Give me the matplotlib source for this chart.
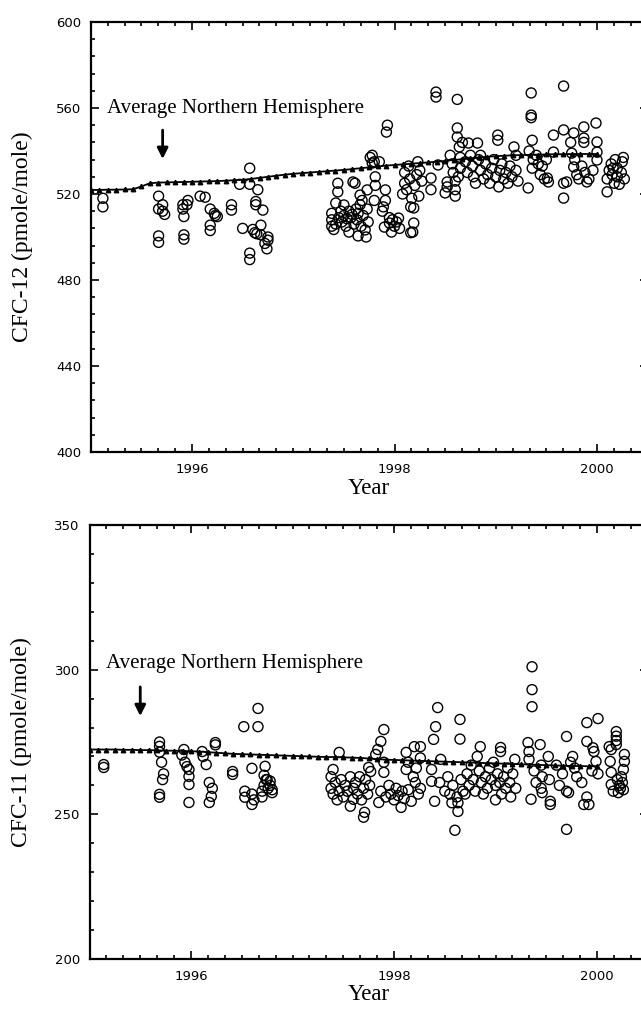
import numpy as np
from matplotlib import pyplot as plt
from matplotlib.ticker import MultipleLocator

plt.rcParams['font.family'] = ['DejaVu Sans']

# monthly Northern Hemisphere averages, Jan 1995 .. Jan 2000
months = 1995 + np.arange(61) / 12.0
cfc12_avg = [521.9, 521.9, 522.0, 522.0, 522.1, 522.2, 523.5, 525.0, 525.3, 525.4, 525.5, 525.6,
             525.7, 525.8, 525.9, 526.0, 526.2, 526.4, 526.6, 527.0, 527.5, 528.0, 528.5, 529.0,
             529.4, 529.7, 530.0, 530.3, 530.6, 530.9, 531.2, 531.6, 532.0, 532.4, 532.8, 533.2,
             533.5, 533.8, 534.1, 534.4, 534.7, 535.0, 535.4, 535.8, 536.2, 536.6, 537.0, 537.3,
             537.6, 537.8, 538.0, 538.1, 538.2, 538.3, 538.4, 538.5, 538.5, 538.6, 538.6, 538.6,
             538.6]
cfc11_avg = [272.4, 272.4, 272.4, 272.4, 272.3, 272.3, 272.2, 272.2, 272.1, 272.0, 272.0, 271.9,
             271.8, 271.7, 271.5, 271.3, 271.1, 270.9, 270.8, 270.7, 270.6, 270.5, 270.4, 270.3,
             270.2, 270.1, 270.0, 269.9, 269.8, 269.8, 269.7, 269.6, 269.5, 269.3, 269.1, 268.9,
             268.8, 268.7, 268.6, 268.5, 268.4, 268.3, 268.2, 268.1, 268.0, 267.9, 267.8, 267.7,
             267.6, 267.5, 267.4, 267.3, 267.2, 267.1, 267.0, 266.9, 266.8, 266.7, 266.7, 266.6,
             266.6]

# individual samples (decimal year, pmole/mole)
cfc12_year = [1995.12, 1995.12,
              1995.67, 1995.67, 1995.71, 1995.71, 1995.73, 1995.67, 1995.67,
              1995.91, 1995.91, 1995.92, 1995.92, 1995.92, 1995.96, 1995.95,
              1996.08, 1996.13, 1996.18, 1996.22, 1996.25, 1996.18, 1996.18, 1996.23,
              1996.39, 1996.39,
              1996.50, 1996.47, 1996.57, 1996.57, 1996.65, 1996.63, 1996.63, 1996.70, 1996.60,
              1996.62, 1996.64, 1996.68, 1996.68, 1996.75, 1996.75, 1996.72, 1996.74, 1996.57, 1996.57,
              1997.38, 1997.38, 1997.38, 1997.40, 1997.42, 1997.42, 1997.44, 1997.44, 1997.45,
              1997.47, 1997.48, 1997.50, 1997.50, 1997.52, 1997.53, 1997.55, 1997.55, 1997.57,
              1997.58, 1997.59, 1997.60, 1997.61, 1997.62, 1997.63, 1997.64, 1997.64, 1997.66,
              1997.66, 1997.67, 1997.68, 1997.69, 1997.71, 1997.72, 1997.73, 1997.73, 1997.74,
              1997.76, 1997.78, 1997.78, 1997.80, 1997.81, 1997.81, 1997.80, 1997.85, 1997.88,
              1997.89, 1997.91, 1997.91, 1997.93, 1997.92, 1997.90, 1997.95, 1997.97, 1997.98,
              1998.00, 1998.02, 1998.04, 1998.05, 1997.95,
              1998.08, 1998.10, 1998.10, 1998.12, 1998.14, 1998.15, 1998.16, 1998.17, 1998.19,
              1998.19, 1998.18, 1998.16, 1998.20, 1998.22, 1998.24, 1998.25, 1998.27, 1998.23,
              1998.36, 1998.36, 1998.41, 1998.41, 1998.43, 1998.50, 1998.52, 1998.52, 1998.55,
              1998.57, 1998.58, 1998.60, 1998.60, 1998.62, 1998.62, 1998.62, 1998.64, 1998.65,
              1998.63, 1998.65, 1998.60,
              1998.67, 1998.70, 1998.72, 1998.73, 1998.75, 1998.77, 1998.78, 1998.80, 1998.82,
              1998.83, 1998.85, 1998.85, 1998.88, 1998.90, 1998.92, 1998.94, 1998.96, 1998.98,
              1999.00, 1999.02, 1999.02, 1999.03, 1999.04, 1999.06, 1999.08, 1999.10, 1999.12,
              1999.14, 1999.16, 1999.18, 1999.20, 1999.20, 1999.22,
              1999.32, 1999.35, 1999.35, 1999.35, 1999.36, 1999.33, 1999.37, 1999.36, 1999.40,
              1999.42, 1999.44, 1999.46, 1999.48, 1999.51, 1999.52, 1999.50,
              1999.57, 1999.57, 1999.67, 1999.67, 1999.67, 1999.67, 1999.70, 1999.74, 1999.75,
              1999.77, 1999.77, 1999.78, 1999.80, 1999.82, 1999.85, 1999.87, 1999.87, 1999.87,
              1999.88, 1999.90, 1999.92, 1999.99, 2000.00, 2000.00, 2000.00, 1999.96,
              2000.10, 2000.10, 2000.12, 2000.14, 2000.15, 2000.17, 2000.18, 2000.20, 2000.20,
              2000.22, 2000.24, 2000.25, 2000.26, 2000.27, 2000.16]
cfc12_ppt = [518, 514,
             519, 513, 515, 512, 510.5, 500.5, 497.5,
             515, 513, 509.5, 501, 499, 517, 515,
             519, 518.5, 513, 511, 509.5, 505.5, 503, 510,
             515, 512.5,
             504, 524.5, 532, 524.5, 522, 516.5, 515, 512.5, 503.5,
             502, 501.5, 505.5, 501, 500, 498.5, 497, 494.5, 492.5, 489.5,
             505, 508, 511, 503.5, 515.8, 506, 525, 521, 509,
             512, 507, 514.9, 510, 505, 508.5, 502.3, 512, 509,
             510.5, 525.6, 506, 525, 513, 508, 511, 500.5, 519.5,
             515, 505, 517, 510, 503.3, 500, 521.9, 513, 507,
             537, 538, 534.4, 535, 528, 524, 517, 535, 512,
             514, 521.9, 517, 552, 548.8, 504.6, 506.5, 502.3, 508,
             505, 507, 508.8, 504, 509,
             520, 525, 530, 522, 533, 527, 514, 518, 513.5,
             506.5, 502.3, 502, 524, 529, 519, 531, 526, 535,
             527.4, 522, 567.4, 565.1, 533.5, 520.5, 525.6, 523.3, 538,
             534, 530, 526, 522, 564, 550.7, 546.5, 541.9, 537,
             528, 532, 519,
             544, 535, 530, 543.7, 538, 533, 528, 525, 543.7,
             536, 538, 531, 527, 534, 529, 525, 532, 536,
             528, 547.4, 545, 523.3, 531, 534, 527, 530, 525,
             533, 528, 541.9, 538, 531, 526,
             522.8, 567, 556.7, 555.5, 545, 540, 536, 532, 538,
             534, 529, 533, 527, 527.4, 525.6, 536,
             547.4, 539.5, 570.2, 549.8, 518.1, 525, 525.6, 544, 539,
             548.4, 532.6, 536, 529, 527, 533, 551.2, 546, 544,
             530, 525.6, 527, 553, 544.2, 539.5, 535.8, 531,
             521, 527, 531, 534, 529, 525, 536, 532, 528,
             524.5, 530, 535, 537, 527, 532]

cfc11_year = [1995.14, 1995.14,
              1995.69, 1995.69, 1995.69, 1995.71, 1995.73, 1995.69, 1995.69, 1995.72,
              1995.93, 1995.91, 1995.94, 1995.96, 1995.98, 1995.98, 1995.98, 1995.98,
              1996.11, 1996.12, 1996.15, 1996.18, 1996.20, 1996.18, 1996.24, 1996.24, 1996.21,
              1996.41, 1996.41,
              1996.52, 1996.66, 1996.66, 1996.60, 1996.73, 1996.53, 1996.53, 1996.60, 1996.60,
              1996.62, 1996.70, 1996.72, 1996.74, 1996.76, 1996.78, 1996.80, 1996.70, 1996.72,
              1996.75, 1996.78, 1996.80,
              1997.38, 1997.38, 1997.40, 1997.40, 1997.42, 1997.44, 1997.46, 1997.46, 1997.48,
              1997.50, 1997.52, 1997.54, 1997.57, 1997.57, 1997.60, 1997.60, 1997.62, 1997.64,
              1997.66, 1997.68, 1997.70, 1997.71, 1997.70, 1997.72, 1997.74, 1997.75, 1997.77,
              1997.76,
              1997.82, 1997.84, 1997.87, 1997.90, 1997.85, 1997.87, 1997.90, 1997.90, 1997.92,
              1997.95, 1997.97, 1998.00, 1998.02, 1998.04, 1998.07, 1998.08, 1998.10, 1998.12,
              1998.12, 1998.14, 1998.14, 1998.17, 1998.19, 1998.20, 1998.21, 1998.22, 1998.24,
              1998.26, 1998.26, 1998.26,
              1998.37, 1998.37, 1998.39, 1998.41, 1998.43, 1998.40, 1998.45, 1998.46, 1998.50,
              1998.53, 1998.55, 1998.57, 1998.58, 1998.60, 1998.62, 1998.63, 1998.63, 1998.65,
              1998.65, 1998.66, 1998.68, 1998.70,
              1998.72, 1998.74, 1998.76, 1998.78, 1998.80, 1998.82, 1998.84, 1998.85, 1998.86,
              1998.88, 1998.90, 1998.92, 1998.94, 1998.96, 1998.98, 1999.00, 1999.00, 1999.02,
              1999.04, 1999.05, 1999.05, 1999.06, 1999.08, 1999.10, 1999.12, 1999.14, 1999.15,
              1999.17, 1999.19, 1999.20,
              1999.32, 1999.33, 1999.33, 1999.35, 1999.36, 1999.36, 1999.36, 1999.38, 1999.40,
              1999.44, 1999.45, 1999.46, 1999.45, 1999.46, 1999.52, 1999.53, 1999.54, 1999.54,
              1999.60, 1999.63, 1999.66, 1999.70, 1999.70, 1999.70, 1999.72, 1999.74, 1999.76,
              1999.78, 1999.80, 1999.85, 1999.87, 1999.90, 1999.90, 1999.90, 1999.92, 1999.96,
              1999.97, 1999.99, 2000.01, 2000.01, 1999.95,
              2000.12, 2000.14, 2000.13, 2000.14, 2000.14, 2000.16, 2000.19, 2000.19, 2000.19,
              2000.19, 2000.20, 2000.22, 2000.23, 2000.25, 2000.26, 2000.27, 2000.27, 2000.26,
              2000.24, 2000.21]
cfc11_ppt = [267.2, 266.2,
             275, 273.5, 271.5, 268, 264, 256.9, 255.9, 262,
             272.4, 270.5, 268, 266.5, 265.5, 263.1, 260.3, 254.1,
             271.7, 270, 267.2, 261, 256.2, 254.1, 274.8, 274, 259,
             264.8, 263.8,
             280.3, 280.3, 286.6, 265.9, 266.6, 258, 255.9, 253.4, 257,
             255, 258, 260, 262, 259, 261.5, 257.5, 256, 263.5,
             262, 260, 258.5,
             263, 259, 265.5, 257, 261, 255, 271.4, 258, 262,
             256, 260, 258, 252.8, 263, 255.2, 259, 261, 257,
             263, 255, 249, 250.7, 259, 262, 257, 266.2, 264.8,
             260,
             270.7, 272.4, 275.2, 279.3, 254.1, 258, 268, 264.5, 256,
             260, 257, 255, 259, 256.5, 252.4, 258, 255.5, 271.4,
             265.5, 268, 258.5, 254.5, 263, 273.4, 261, 266, 257,
             273.4, 269.5, 259,
             265.5, 261.4, 275.9, 280.3, 286.9, 254.5, 261, 269, 258,
             263, 257, 254, 260, 244.5, 256, 251, 254, 282.8,
             276, 262, 258, 257,
             264, 260, 267, 262, 258, 270, 265, 273.4, 261,
             257, 263, 259, 266, 262, 268, 255, 260, 264,
             261, 273.1, 271.7, 257, 263, 259, 266, 261, 256,
             264, 269, 259,
             274.8, 271.7, 269, 255.2, 301, 293.1, 287.2, 265, 261,
             274.1, 267, 263, 259, 257.5, 270, 262, 254.5, 253.4,
             267, 260, 264, 276.9, 244.8, 258, 257.5, 268, 270,
             266, 263, 261, 253.4, 281.7, 275.2, 256, 253.4, 273,
             271.7, 268.3, 283.1, 264, 265,
             273.4, 272.4, 268.3, 264.5, 260.3, 258, 278.6, 277, 275.5,
             274.1, 262, 260, 259, 261, 258.5, 270.7, 268.3, 265.5,
             263, 257.5]

W, H = 641, 1011
fig = plt.figure(figsize=(W / 100, H / 100), dpi=100)

# axes placed from the pixel layout of the original figure
ax1 = fig.add_axes([90.75 / W, 1 - 452 / H, 5.5 * 101.25 / W, 430 / H])
ax2 = fig.add_axes([89.5 / W, 1 - 959 / H, 5.5 * 101.5 / W, 434 / H])


def style_axes(ax, ylo, yhi, ymaj, ymin):
    ax.set_xlim(1995, 2000.5)
    ax.set_ylim(ylo, yhi)
    ax.xaxis.set_major_locator(MultipleLocator(2))
    ax.xaxis.set_minor_locator(MultipleLocator(1 / 6))
    ax.yaxis.set_major_locator(MultipleLocator(ymaj))
    ax.yaxis.set_minor_locator(MultipleLocator(ymin))
    ax.tick_params(which='both', direction='in', top=True, right=True, width=1.2)
    ax.tick_params(which='major', length=6, labelsize=9.5, pad=7)
    ax.tick_params(which='minor', length=3)
    ax.tick_params(axis='x', which='major', pad=8)
    for s in ax.spines.values():
        s.set_linewidth(1.6)
    ax.set_xlabel('Year', family='Liberation Serif', fontsize=16.5, labelpad=1)


for ax, yr, val, avg, ylab in [(ax1, cfc12_year, cfc12_ppt, cfc12_avg, 'CFC-12 (pmole/mole)'),
                               (ax2, cfc11_year, cfc11_ppt, cfc11_avg, 'CFC-11 (pmole/mole)')]:
    ax.scatter(yr, val, s=52, facecolors='none', edgecolors='black', linewidths=1.0, zorder=2)
    ax.plot(months, avg, '-', color='black', lw=1.3, marker='^', ms=3.2, zorder=3)
    ax.set_ylabel(ylab, family='Liberation Serif', fontsize=17, labelpad=16)

style_axes(ax1, 400, 600, 40, 8)
style_axes(ax2, 200, 350, 50, 10)

# annotations
ax1.text(1995.16, 560, 'Average Northern Hemisphere', va='center', ha='left',
         family='Liberation Serif', fontsize=15)
ax1.annotate('', xy=(1995.71, 535), xytext=(1995.71, 551),
             arrowprops=dict(arrowstyle='-|>', color='black', lw=2, mutation_scale=16))
ax2.text(1995.16, 302, 'Average Northern Hemisphere', va='center', ha='left',
         family='Liberation Serif', fontsize=15)
ax2.annotate('', xy=(1995.5, 283), xytext=(1995.5, 295),
             arrowprops=dict(arrowstyle='-|>', color='black', lw=2, mutation_scale=16))

plt.savefig('out.png', dpi=100)
